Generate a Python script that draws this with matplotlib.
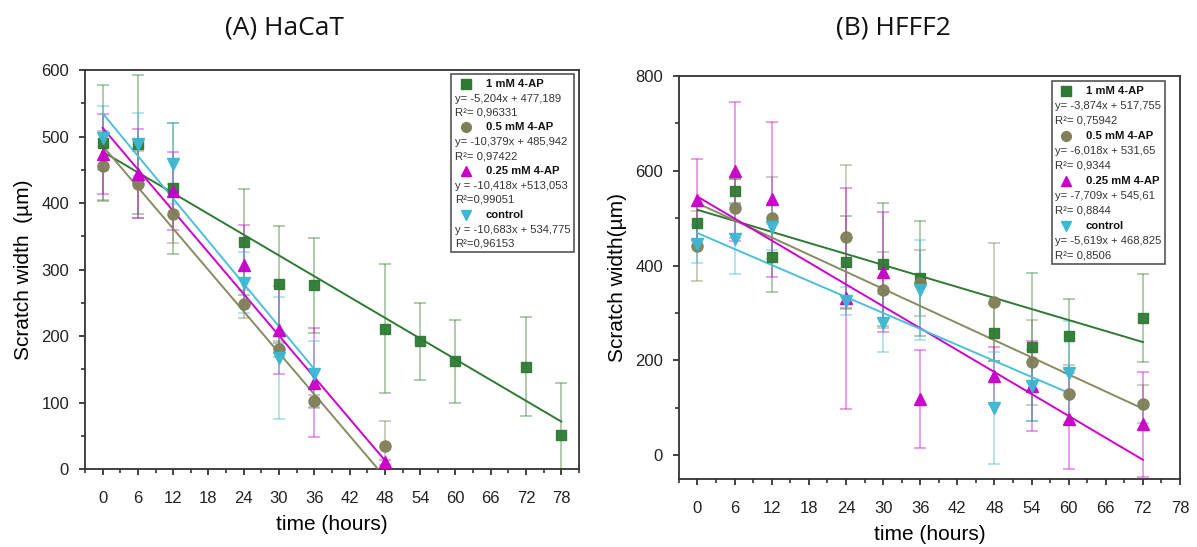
import numpy as np
import matplotlib
matplotlib.use("Agg")
import matplotlib.pyplot as plt
from matplotlib.ticker import MultipleLocator
from matplotlib.offsetbox import (AnchoredOffsetbox, VPacker, HPacker,
                                  TextArea, DrawingArea)
from matplotlib.lines import Line2D

plt.rcParams['font.family'] = ['Liberation Sans', 'DejaVu Sans']

# ---------------- data : (A) HaCaT ----------------
a_labels = ["1 mM 4-AP", "0.5 mM 4-AP", "0.25 mM 4-AP", "control"]
a_t_1mM = [0, 6, 12, 24, 30, 36, 48, 54, 60, 72, 78]
a_y_1mM = [490, 488, 422, 341, 278, 276, 211, 192, 162, 154, 51]
a_e_1mM = [87, 104, 98, 80, 88, 71, 97, 58, 62, 74, 79]
a_t_05 = [0, 6, 12, 24, 30, 36, 48]
a_y_05 = [456, 428, 384, 248, 180, 102, 35]
a_e_05 = [52, 50, 44, 21, 12, 10, 37]
a_t_025 = [0, 6, 12, 24, 30, 36, 48]
a_y_025 = [474, 444, 418, 307, 209, 130, 10]
a_e_025 = [60, 67, 58, 60, 66, 82, 4]
a_t_ctl = [0, 6, 12, 24, 30, 36]
a_y_ctl = [498, 488, 459, 280, 167, 143]
a_e_ctl = [48, 48, 61, 46, 92, 50]
a_slopes = [-5.204, -10.379, -10.418, -10.683]
a_intercepts = [477.189, 485.942, 513.053, 534.775]
a_eq_text = ["y= -5,204x + 477,189", "y= -10,379x + 485,942",
             "y = -10,418x +513,053", "y = -10,683x + 534,775"]
a_r2_text = ["R²= 0,96331", "R²= 0,97422", "R²=0,99051", "R²=0,96153"]

# ---------------- data : (B) HFFF2 ----------------
b_labels = ["1 mM 4-AP", "0.5 mM 4-AP", "0.25 mM 4-AP", "control"]
b_t_1mM = [0, 6, 12, 24, 30, 36, 48, 54, 60, 72]
b_y_1mM = [491, 557, 418, 408, 403, 373, 259, 228, 251, 289]
b_e_1mM = [35, 25, 74, 97, 130, 121, 60, 156, 78, 93]
b_t_05 = [0, 6, 12, 24, 30, 36, 48, 54, 60, 72]
b_y_05 = [442, 521, 501, 461, 349, 364, 323, 196, 130, 109]
b_e_05 = [74, 62, 86, 152, 80, 70, 125, 90, 60, 40]
b_t_025 = [0, 6, 12, 24, 30, 36, 48, 54, 60, 72]
b_y_025 = [538, 599, 540, 331, 387, 119, 168, 147, 77, 65]
b_e_025 = [86, 147, 163, 233, 127, 104, 60, 95, 105, 110]
b_t_ctl = [0, 6, 12, 24, 30, 36, 48, 54, 60]
b_y_ctl = [445, 456, 482, 326, 279, 349, 100, 147, 174]
b_e_ctl = [40, 74, 50, 30, 61, 105, 118, 75, 110]
b_slopes = [-3.874, -6.018, -7.709, -5.619]
b_intercepts = [517.755, 531.65, 545.61, 468.825]
b_eq_text = ["y= -3,874x + 517,755", "y= -6,018x + 531,65",
             "y= -7,709x + 545,61", "y= -5,619x + 468,825"]
b_r2_text = ["R²= 0,75942", "R²= 0,9344", "R²= 0,8844", "R²= 0,8506"]

x_ticks = list(range(0, 79, 6))

# ---------------- styles ----------------
markers = ["s", "o", "^", "v"]
mcolors = ["#2e7a33", "#7f7f58", "#c800c8", "#3bb8d2"]
lcolors = ["#2e7a33", "#8a8a62", "#cc00cc", "#4cc0d8"]
msizes = [7.5, 8, 9, 9]

fig = plt.figure(figsize=(11.97, 5.47), dpi=100)
axA = fig.add_axes([0.0710, 0.1426, 0.4127, 0.7294])
axB = fig.add_axes([0.5672, 0.1243, 0.4186, 0.7367])
ax_xmax = {axA: 81, axB: 78}


def draw(ax, series, slopes, intercepts, labels, eqs, r2s, ylim, ymaj, ymin,
         ylabel, legend_loc_box, row_sep):
    for i, (t, y, e) in enumerate(series):
        ax.errorbar(t, y, yerr=e, fmt="none", ecolor=mcolors[i], alpha=0.45,
                    elinewidth=1.2, capsize=4, capthick=1.2, zorder=2)
    for i, (t, y, e) in enumerate(series):
        t = np.asarray(t, float)
        xx = np.array([t.min(), t.max()])
        ax.plot(xx, slopes[i] * xx + intercepts[i], color=lcolors[i], lw=1.4,
                zorder=3)
    for i, (t, y, e) in enumerate(series):
        ax.plot(t, y, linestyle="none", marker=markers[i], ms=msizes[i],
                color=mcolors[i], mec=mcolors[i], alpha=0.95, zorder=4)
    ax.set_xlim(-3, ax_xmax[ax])
    ax.set_ylim(*ylim)
    ax.set_xticks(x_ticks)
    ax.xaxis.set_minor_locator(MultipleLocator(3))
    ax.yaxis.set_major_locator(MultipleLocator(ymaj))
    ax.yaxis.set_minor_locator(MultipleLocator(ymin))
    ax.tick_params(which="major", direction="out", length=4.5, width=1.2,
                   labelsize=12, colors="#222222")
    ax.tick_params(axis="x", which="major", pad=11)
    ax.tick_params(axis="y", which="major", pad=7)
    ax.tick_params(which="minor", direction="out", length=3, width=1.1,
                   colors="#222222")
    for s in ax.spines.values():
        s.set_linewidth(1.3)
        s.set_color("#333333")
    ax.set_xlabel("time (hours)", fontsize=15, labelpad=7)
    ax.set_ylabel(ylabel, fontsize=15, labelpad=6)

    # legend box
    rows = []
    for i in range(len(labels)):
        da = DrawingArea(16, 9, 0, 0)
        da.add_artist(Line2D([8], [4.5], marker=markers[i], ms=7,
                             color=mcolors[i], linestyle="none"))
        head = HPacker(children=[da, TextArea(labels[i], textprops=dict(
            fontsize=8.1, fontweight="bold", color="#111111"))],
            pad=0, sep=6, align="center")
        rows.append(head)
        rows.append(TextArea(eqs[i], textprops=dict(fontsize=8.1,
                                                    color="#333333")))
        rows.append(TextArea(r2s[i], textprops=dict(fontsize=8.1,
                                                    color="#333333")))
    vp = VPacker(children=rows, pad=0, sep=row_sep, align="left")
    anc = AnchoredOffsetbox(loc="upper right", child=vp, pad=0.25,
                            borderpad=0, frameon=True,
                            bbox_to_anchor=legend_loc_box,
                            bbox_transform=ax.transAxes)
    anc.patch.set_edgecolor("#555555")
    anc.patch.set_linewidth(1.2)
    ax.add_artist(anc)


draw(axA,
     [(a_t_1mM, a_y_1mM, a_e_1mM), (a_t_05, a_y_05, a_e_05),
      (a_t_025, a_y_025, a_e_025), (a_t_ctl, a_y_ctl, a_e_ctl)],
     a_slopes, a_intercepts, a_labels, a_eq_text, a_r2_text,
     (0, 600), 100, 50, "Scratch width  (µm)", (0.99, 0.99), 2.7)
draw(axB,
     [(b_t_1mM, b_y_1mM, b_e_1mM), (b_t_05, b_y_05, b_e_05),
      (b_t_025, b_y_025, b_e_025), (b_t_ctl, b_y_ctl, b_e_ctl)],
     b_slopes, b_intercepts, b_labels, b_eq_text, b_r2_text,
     (-50, 800), 200, 100, "Scratch width(µm)", (0.97, 0.988), 3.0)

fig.text(0.238, 0.949, "(A) HaCaT", fontsize=19, family=["Open Sans"],
         ha="center", va="center", color="#111111")
fig.text(0.746, 0.949, "(B) HFFF2", fontsize=19, family=["Open Sans"],
         ha="center", va="center", color="#111111")

fig.savefig("out.png", dpi=100)
